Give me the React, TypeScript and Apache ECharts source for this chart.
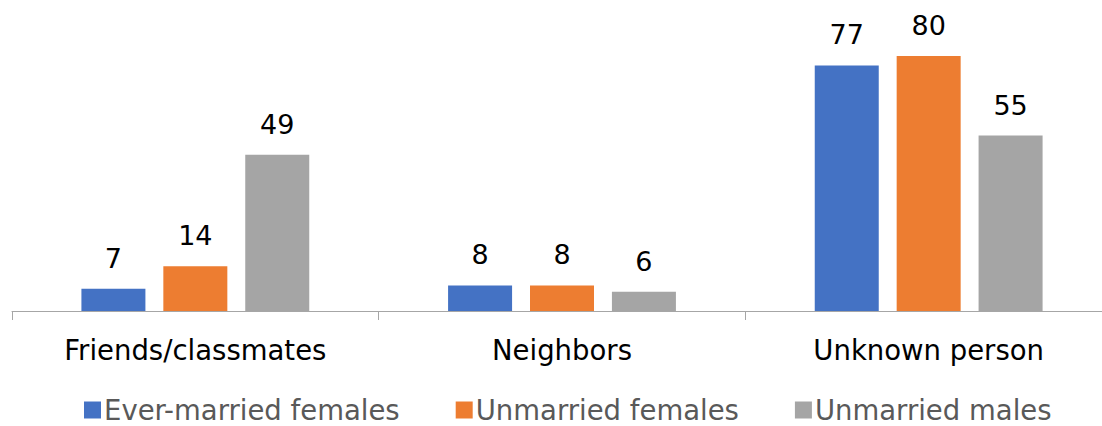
import React, { useEffect, useRef } from "react";
import * as echarts from "echarts";

const categories = ["Friends/classmates", "Neighbors", "Unknown person"];
const seriesNames = ["Ever-married females", "Unmarried females", "Unmarried males"];
const everMarried = [7, 8, 77];
const unmarriedFemales = [14, 8, 80];
const unmarriedMales = [49, 6, 55];
const colors = ["#4472C4", "#ED7D31", "#A5A5A5"];

const FONT = "DejaVu Sans";

export default function App() {
  const ref = useRef<HTMLDivElement>(null);
  useEffect(() => {
    if (!ref.current) return;
    const chart = echarts.init(ref.current, undefined, { renderer: "svg" });
    const data = [everMarried, unmarriedFemales, unmarriedMales];
    chart.setOption({
      animation: false,
      textStyle: { fontFamily: FONT },
      grid: { left: 12, right: 0, top: 24, bottom: 115 },
      legend: {
        bottom: 2,
        left: 84,
        padding: 0,
        itemWidth: 17,
        itemHeight: 17,
        itemGap: 56,
        itemStyle: { borderWidth: 0 },
        icon: "rect",
        textStyle: { fontFamily: FONT, fontSize: 27.5, color: "#595959", padding: [0, 0, 0, -2] },
        data: seriesNames,
      },
      xAxis: {
        type: "category",
        data: categories,
        axisLine: { lineStyle: { color: "#A6A6A6", width: 1 } },
        axisTick: { show: true, length: 9, lineStyle: { color: "#A6A6A6" } },
        axisLabel: { fontFamily: FONT, fontSize: 27.5, color: "#000", margin: 25 },
      },
      yAxis: {
        type: "value",
        min: 0,
        max: 90,
        show: false,
        splitLine: { show: false },
      },
      series: seriesNames.map((name, i) => ({
        name,
        type: "bar",
        data: data[i],
        barWidth: 64,
        barGap: "28%",
        itemStyle: { color: colors[i] },
        label: {
          show: true,
          position: "top",
          distance: 17,
          fontFamily: FONT,
          fontSize: 27,
          color: "#000",
        },
      })),
    });
    return () => chart.dispose();
  }, []);
  return (
    <div style={{ width: 1102, height: 426, position: "absolute", left: 0, top: 0, overflow: "hidden" }}>
      <div ref={ref} style={{ width: 1112, height: 426 }} />
    </div>
  );
}
